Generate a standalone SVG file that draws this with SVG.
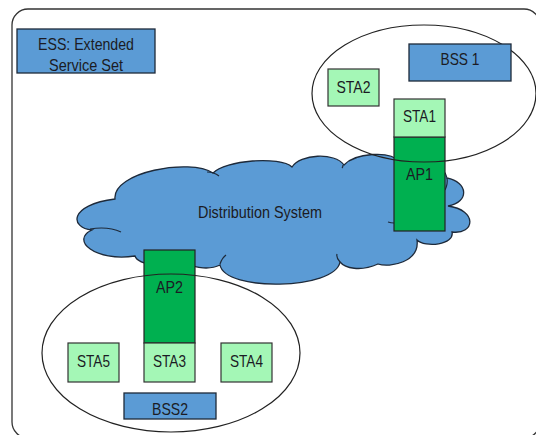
<svg xmlns="http://www.w3.org/2000/svg" width="536" height="435" viewBox="0 0 536 435">
<style>
  .t{font-family:"Liberation Sans",Arial,sans-serif;font-size:17px;fill:#1b1b24;text-anchor:middle}
  .blue{fill:#5b9bd5;stroke:#1e2a3a;stroke-width:1.3}
  .sta{fill:#a4f7b6;stroke:#333;stroke-width:1.2}
  .ap{fill:#00b050;stroke:#222;stroke-width:1.2}
  .ell{fill:none;stroke:#222;stroke-width:1.2}
  .crease{fill:none;stroke:#1e2a3a;stroke-width:1.2}
</style>
<rect width="536" height="435" fill="#ffffff"/>
<g id="ess-frame">
  <rect x="12" y="9" width="528" height="429" rx="16" ry="16" fill="#ffffff" stroke="#333" stroke-width="1.3"/>
</g>
<g id="ess-label">
  <rect class="blue" x="17" y="29" width="138" height="44"/>
  <text class="t" x="86" y="50" textLength="96" lengthAdjust="spacingAndGlyphs">ESS: Extended</text>
  <text class="t" x="86" y="71" textLength="74" lengthAdjust="spacingAndGlyphs">Service Set</text>
</g>
<g id="distribution-system">
  <path class="blue" d="M 92,230 C 70,228 68,205 115,199 C 112,172 190,158 213,173 C 225,160 280,156 292,167 C 300,154 335,152 344,165 C 355,153 390,150 400,162 C 425,160 445,165 447,178 C 468,182 470,202 448,206 C 478,210 475,235 452,232 C 455,245 425,248 417,240 C 420,262 390,268 378,264 C 360,272 345,268 340,262 C 335,290 225,292 220,265 C 210,270 195,268 190,264 C 170,268 138,266 135,256 C 95,262 70,240 92,230 Z"/>
  <path class="crease" d="M 90,229 Q 108,226 121,232"/>
  <path class="crease" d="M 207,172 Q 214,172 219,176"/>
  <path class="crease" d="M 343,165 Q 343,167 342,168"/>
  <path class="crease" d="M 220,264 Q 222,258 226,255"/>
  <path class="crease" d="M 340,262 Q 336,258 337,254"/>
  <path class="crease" d="M 447,178 Q 448,184 445,190"/>
  <path class="crease" d="M 388,222 Q 391,223 394,223"/>
  <text class="t" x="260" y="218" textLength="124" lengthAdjust="spacingAndGlyphs">Distribution System</text>
</g>
<g id="ap1">
  <rect class="ap" x="394" y="137" width="51" height="94"/>
  <text class="t" x="419.5" y="180" textLength="27" lengthAdjust="spacingAndGlyphs">AP1</text>
</g>
<g id="ap2">
  <rect class="ap" x="144" y="250" width="51" height="93"/>
  <text class="t" x="169.5" y="293" textLength="27" lengthAdjust="spacingAndGlyphs">AP2</text>
</g>
<g id="bss1">
  <ellipse class="ell" cx="424" cy="93.5" rx="112" ry="68.5"/>
</g>
<g id="bss2">
  <ellipse class="ell" cx="171" cy="353" rx="129" ry="79"/>
</g>
<g id="bss1-label">
  <rect class="blue" x="409" y="44" width="102" height="37"/>
  <text class="t" x="460" y="65" textLength="39" lengthAdjust="spacingAndGlyphs">BSS 1</text>
</g>
<g id="sta2">
  <rect class="sta" x="328" y="69" width="51" height="37"/>
  <text class="t" x="353.5" y="93" textLength="34" lengthAdjust="spacingAndGlyphs">STA2</text>
</g>
<g id="sta1">
  <rect class="sta" x="394" y="99" width="51" height="38"/>
  <text class="t" x="419.5" y="122" textLength="33" lengthAdjust="spacingAndGlyphs">STA1</text>
</g>
<g id="sta5">
  <rect class="sta" x="68" y="343" width="51" height="39"/>
  <text class="t" x="93.5" y="367" textLength="33" lengthAdjust="spacingAndGlyphs">STA5</text>
</g>
<g id="sta3">
  <rect class="sta" x="144" y="343" width="51" height="39"/>
  <text class="t" x="169.5" y="367" textLength="33" lengthAdjust="spacingAndGlyphs">STA3</text>
</g>
<g id="sta4">
  <rect class="sta" x="221" y="343" width="51" height="39"/>
  <text class="t" x="246.5" y="367" textLength="33" lengthAdjust="spacingAndGlyphs">STA4</text>
</g>
<g id="bss2-label">
  <rect class="blue" x="124" y="393" width="92" height="26"/>
  <text class="t" x="170" y="415" textLength="36" lengthAdjust="spacingAndGlyphs">BSS2</text>
</g>
</svg>
